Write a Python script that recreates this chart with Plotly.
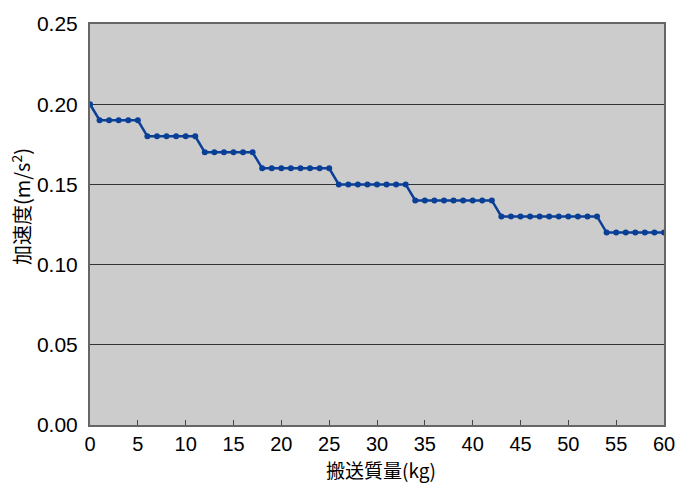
import plotly.graph_objects as go

mass_kg = list(range(0, 61))
accel = ([0.20] + [0.19] * 5 + [0.18] * 6 + [0.17] * 6 + [0.16] * 8 +
         [0.15] * 8 + [0.14] * 9 + [0.13] * 11 + [0.12] * 7)
x_title = "搬送質量(kg)"
y_title = "加速度(m/s<sup>2</sup>)"
y_ticks = [0.0, 0.05, 0.10, 0.15, 0.20, 0.25]
y_ticklabels = ["0.00", "0.05", "0.10", "0.15", "0.20", "0.25"]
x_ticks = list(range(0, 61, 5))

fig = go.Figure()
fig.add_trace(go.Scatter(
    x=mass_kg, y=accel, mode="lines+markers",
    line=dict(color="#0a3f96", width=2.5),
    marker=dict(color="#0a3f96", size=6),
    showlegend=False,
))

font_family = "Liberation Sans, Arial, Noto Sans CJK JP, sans-serif"
cjk = "Noto Sans CJK JP, sans-serif"
fig.update_layout(
    width=687, height=489,
    margin=dict(l=90, r=19, t=21, b=64),
    paper_bgcolor="white",
    plot_bgcolor="#cccccc",
    font=dict(family=font_family, color="black", size=21),
)
fig.update_xaxes(
    range=[0, 60], tickvals=x_ticks, ticks="inside", ticklen=5, tickcolor="#444",
    showgrid=False, zeroline=False,
    showline=True, linecolor="#666", linewidth=2, mirror=True,
    tickfont=dict(size=20),
)
fig.update_yaxes(
    range=[0, 0.25], tickvals=y_ticks, ticktext=y_ticklabels, ticks="",
    ticklabelstandoff=6,
    showgrid=True, gridcolor="#333333", gridwidth=1, zeroline=False,
    showline=True, linecolor="#666", linewidth=2, mirror=True,
    tickfont=dict(size=21),
)
fig.add_annotation(
    text=y_title, textangle=-90, showarrow=False,
    xref="paper", yref="paper", x=-70 / 577, y=220 / 404,
    xanchor="center", yanchor="middle",
    font=dict(size=20, family=cjk),
)
fig.add_annotation(
    text=x_title, showarrow=False,
    xref="paper", yref="paper", x=293 / 577, y=-45 / 404,
    xanchor="center", yanchor="middle",
    font=dict(size=19, family=cjk),
)

fig.write_html("out.html", config={"displayModeBar": False},
               post_script="document.body.style.margin='0';")
